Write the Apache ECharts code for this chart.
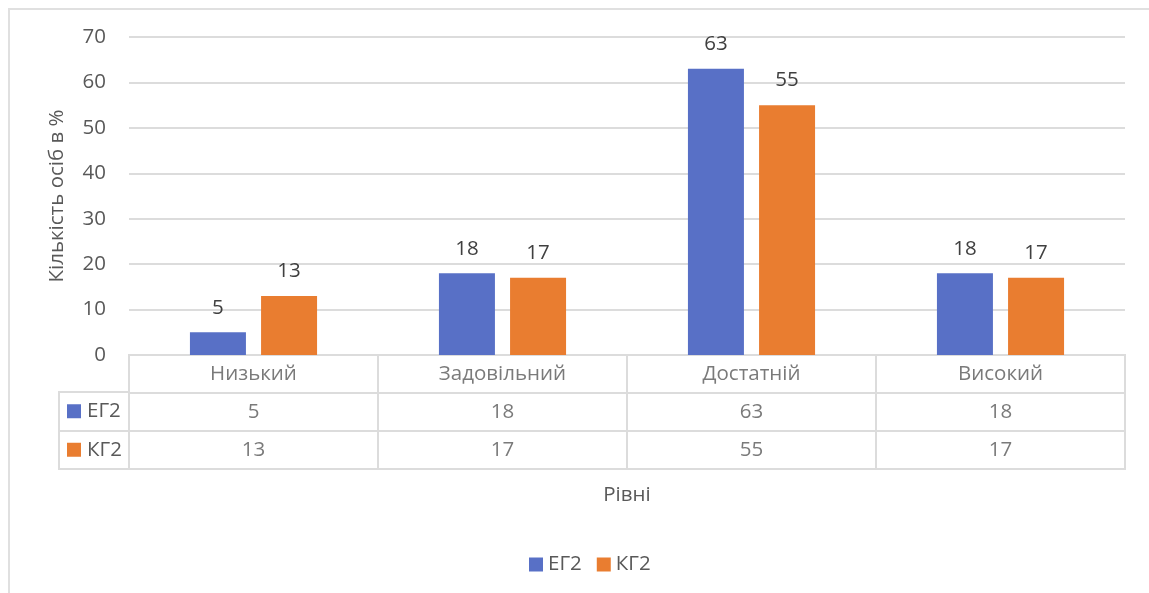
<!DOCTYPE html>
<html>
<head>
<meta charset="utf-8">
<script src="https://cdn.jsdelivr.net/npm/echarts@6/dist/echarts.min.js"></script>
<style>
    html, body { margin: 0; padding: 0; background: #fff; }
    .frame {
        position: absolute; left: 8px; top: 8px; width: 1200px; height: 700px;
        border-left: 2px solid #e0e0e0; border-top: 2px solid #e0e0e0;
    }
    #chart { position: absolute; left: 0; top: 0; width: 1149px; height: 593px; }
</style>
</head>
<body>
<div class="frame"></div>
<div id="chart"></div>
<script>
// категорії та значення
const categories = ['Низький', 'Задовільний', 'Достатній', 'Високий']
const egValues = [5, 18, 63, 18]
const kgValues = [13, 17, 55, 17]
const seriesNames = ['ЕГ2', 'КГ2']
const colors = ['#5870c6', '#e97d30']
const yTicks = { min: 0, max: 70, interval: 10 }

const textColor = '#595959'
const lineColor = '#dcdcdc'
const font = 'Open Sans'
const fs = 20.5

// рядки таблиці даних під графіком
const tableRows = ['', seriesNames[0], seriesNames[1]]
const tableData = []
categories.forEach((c, i) => {
    tableData.push([i, 0, c])
    tableData.push([i, 1, String(egValues[i])])
    tableData.push([i, 2, String(kgValues[i])])
})

const chart = echarts.init(document.getElementById('chart'))

const barLabel = {
    show: true,
    position: 'top',
    distance: 14,
    fontFamily: font,
    fontSize: fs,
    color: '#404040'
}

const option = {
    animation: false,
    textStyle: { fontFamily: font },
    legend: {
        data: seriesNames,
        left: 524,
        top: 549,
        icon: 'rect',
        itemWidth: 14,
        itemHeight: 14,
        itemGap: 15,
        textStyle: { fontFamily: font, fontSize: fs, color: textColor }
    },
    grid: [
        // графік
        { left: 129, right: 24, top: 37, height: 318 },
        // таблиця
        { left: 129, right: 24, top: 355, height: 114, show: true, borderColor: lineColor, borderWidth: 2 },
        // колонка з ключами легенди
        { left: 59, width: 70, top: 392, height: 77, show: true, borderColor: lineColor, borderWidth: 2 }
    ],
    xAxis: [
        {
            gridIndex: 0,
            type: 'category',
            data: categories,
            axisLine: { lineStyle: { color: lineColor, width: 2 } },
            axisTick: { show: false },
            axisLabel: { show: false }
        },
        {
            gridIndex: 1,
            type: 'category',
            data: categories,
            name: 'Рівні',
            nameLocation: 'middle',
            nameGap: 16,
            nameTextStyle: { fontFamily: font, fontSize: fs, color: textColor },
            axisLine: { show: false },
            axisTick: { show: false },
            axisLabel: { show: false },
            splitLine: { show: true, interval: 0, lineStyle: { color: lineColor, width: 2 } }
        },
        { gridIndex: 2, type: 'value', show: false }
    ],
    yAxis: [
        {
            gridIndex: 0,
            type: 'value',
            min: yTicks.min,
            max: yTicks.max,
            interval: yTicks.interval,
            name: 'Кількість осіб в %',
            nameLocation: 'middle',
            nameGap: 61,
            nameTextStyle: { fontFamily: font, fontSize: fs, color: textColor },
            axisLine: { show: false },
            axisTick: { show: false },
            axisLabel: { fontFamily: font, fontSize: fs, color: textColor, margin: 23 },
            splitLine: { lineStyle: { color: lineColor, width: 2 } }
        },
        {
            gridIndex: 1,
            type: 'category',
            data: tableRows,
            inverse: true,
            axisLine: { show: false },
            axisTick: { show: false },
            axisLabel: { show: false },
            splitLine: { show: true, interval: 0, lineStyle: { color: lineColor, width: 2 } }
        },
        {
            gridIndex: 2,
            type: 'category',
            data: seriesNames,
            inverse: true,
            axisLine: { show: false },
            axisTick: { show: false },
            splitLine: { show: true, interval: 0, lineStyle: { color: lineColor, width: 2 } },
            axisLabel: {
                inside: true,
                margin: 8,
                formatter: (v, i) => `{k${i}|}{t|${v}}`,
                rich: {
                    k0: { backgroundColor: colors[0], width: 14, height: 14 },
                    k1: { backgroundColor: colors[1], width: 14, height: 14 },
                    t: { fontFamily: font, fontSize: fs, color: textColor, padding: [0, 0, 0, 6] }
                }
            }
        }
    ],
    series: [
        {
            name: seriesNames[0],
            type: 'bar',
            xAxisIndex: 0,
            yAxisIndex: 0,
            data: egValues,
            barWidth: 56,
            barGap: '27%',
            itemStyle: { color: colors[0] },
            label: barLabel
        },
        {
            name: seriesNames[1],
            type: 'bar',
            xAxisIndex: 0,
            yAxisIndex: 0,
            data: kgValues,
            barWidth: 56,
            barGap: '27%',
            itemStyle: { color: colors[1] },
            label: barLabel
        },
        {
            type: 'scatter',
            xAxisIndex: 1,
            yAxisIndex: 1,
            data: tableData,
            symbolSize: 1,
            itemStyle: { color: 'rgba(0,0,0,0)' },
            silent: true,
            label: {
                show: true,
                position: 'inside',
                formatter: p => p.value[2],
                fontFamily: font,
                fontSize: fs,
                color: textColor
            }
        }
    ]
}

chart.setOption(option)
</script>
</body>
</html>
